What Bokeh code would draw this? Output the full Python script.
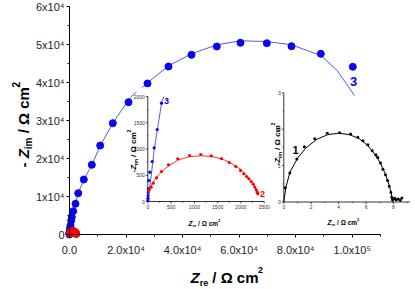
import math
from bokeh.plotting import figure
from bokeh.models import Range1d, FixedTicker, Label
from bokeh.core.properties import value
from bokeh.embed import file_html
from bokeh.resources import INLINE

# ---- sample 3 (blue): impedance points and fitted arc, Ohm cm^2 ----
z3_re = [2, 4, 6, 9, 13, 21, 43, 94, 137, 202, 294, 350, 600, 810, 1310, 2120, 3080,
         5060, 7890, 10850, 15320, 20870, 27590, 35020, 43150, 52100, 60480, 69790,
         78520, 88890, 100200]
z3_im = [20, 60, 110, 170, 240, 400, 558, 762, 1023, 1371, 1872, 2370, 3680, 4550, 6130,
         8080, 10870, 14470, 18340, 23420, 29290, 34820, 39740, 44210, 47290, 49470,
         50450, 50340, 49550, 47550, 44130]
fit3_re = [0, 40, 140, 300, 345, 700, 1300, 2100, 3100, 5100, 7900, 10900, 15300, 21575,
           27590, 35016, 43150, 52100, 60480, 69790, 78520, 88890, 94680, 100800]
fit3_im = [0, 250, 1000, 1900, 2000, 4300, 6200, 8100, 10900, 14500, 18300, 23400, 29300,
           36130, 39920, 44390, 47550, 49920, 50970, 50790, 49920, 47110, 43160, 36580]

# ---- sample 2 (red) ----
z2_re = [30, 73, 116, 187, 294, 445, 644, 896, 1138, 1362, 1583, 1748, 1890, 1991, 2062,
         2120, 2169, 2221, 2264, 2298, 2328, 2350, 2363]
z2_im = [223, 272, 349, 451, 571, 699, 813, 876, 895, 870, 819, 743, 667, 590, 528, 476,
         432, 381, 330, 272, 223, 177, 147]
fit2_re = [10, 60, 150, 300, 450, 650, 900, 1150, 1400, 1650, 1850, 2000, 2120, 2220, 2300, 2384]
fit2_im = [150, 280, 420, 570, 680, 790, 855, 872, 855, 790, 700, 610, 500, 390, 280, 147]

# ---- sample 1 (black) ----
z1_re = [0.10, 0.44, 0.95, 1.50, 2.26, 3.17, 4.07, 4.87, 5.40, 5.77, 6.13, 6.45, 6.72, 6.86,
         7.06, 7.23, 7.42, 7.57, 7.69, 7.81, 7.88, 7.93, 8.00, 8.10, 8.20, 8.35, 8.50, 8.61]
z1_im = [0.39, 0.80, 1.18, 1.52, 1.74, 1.89, 1.90, 1.87, 1.78, 1.68, 1.57, 1.41, 1.30, 1.22,
         1.07, 0.90, 0.75, 0.59, 0.43, 0.27, 0.13, 0.06, 0.08, 0.10, 0.06, 0.08, 0.05, 0.11]
fit1_re = [0, 0.15, 0.45, 1.0, 1.6, 2.4, 3.2, 4.0, 4.8, 5.5, 6.1, 6.6, 7.0, 7.4, 7.7, 7.85, 7.95]
fit1_im = [0, 0.40, 0.82, 1.20, 1.48, 1.72, 1.85, 1.89, 1.85, 1.74, 1.56, 1.33, 1.10, 0.78,
           0.45, 0.22, 0.0]

# ---- tick values and labels ----
main_x_ticks = [0, 20000, 40000, 60000, 80000, 100000]
main_x_labels = ["0.0", "2.0x10⁴", "4.0x10⁴", "6.0x10⁴", "8.0x10⁴", "1.0x10⁵"]
main_x_minor = [10000, 30000, 50000, 70000, 90000, 110000]
main_y_ticks = [0, 10000, 20000, 30000, 40000, 50000, 60000]
main_y_labels = ["0", "1x10⁴", "2x10⁴", "3x10⁴", "4x10⁴", "5x10⁴", "6x10⁴"]
main_y_minor = [5000, 15000, 25000, 35000, 45000, 55000]

in1_x_ticks = [0, 500, 1000, 1500, 2000, 2500]
in1_x_minor = [250, 750, 1250, 1750, 2250]
in1_y_ticks = [0, 500, 1000, 1500, 2000]
in1_y_minor = [250, 750, 1250, 1750]
in2_x_ticks = [0, 2, 4, 6, 8]
in2_x_minor = [1, 3, 5, 7, 9]
in2_y_ticks = [0, 1, 2, 3]
in2_y_minor = [0.5, 1.5, 2.5]

BLUE = "#0505f0"
BLUE_LINE = "#5a5ae0"
RED = "#ff0000"
RED_LINE = "#f03c3c"
FONT = "Liberation Sans"

# ---- page geometry: the frame fills the page, axes are pinned at zero ----
W, H = 415, 289
X0, Y0 = 69, 234            # pixel position of the data origin
X_PER_PX = 1.1e5 / 311
Y_PER_PX = 6e4 / 228


def dx(px):
    return (px - X0) * X_PER_PX


def dy(py):
    return (Y0 - py) * Y_PER_PX


p = figure(width=W, height=H, output_backend="svg", toolbar_location=None, title=None,
           x_range=Range1d(dx(0), dx(W)), y_range=Range1d(dy(H), dy(0)),
           min_border=0)
p.xgrid.visible = False
p.ygrid.visible = False
p.outline_line_color = None
p.background_fill_color = "white"
p.border_fill_color = "white"

p.xaxis.ticker = FixedTicker(ticks=main_x_ticks, minor_ticks=main_x_minor)
p.yaxis.ticker = FixedTicker(ticks=main_y_ticks, minor_ticks=main_y_minor)
p.xaxis.major_label_overrides = {float(t): s for t, s in zip(main_x_ticks, main_x_labels)}
p.yaxis.major_label_overrides = {float(t): s for t, s in zip(main_y_ticks, main_y_labels)}
p.xaxis.bounds = (0, 110000)
p.yaxis.bounds = (0, 60000)
p.xaxis.fixed_location = 0
p.yaxis.fixed_location = 0
for ax in (p.xaxis[0], p.yaxis[0]):
    ax.axis_line_color = "black"
    ax.axis_line_width = 1
    ax.major_tick_out = 3
    ax.major_tick_in = 0
    ax.minor_tick_out = 2
    ax.minor_tick_in = 0
    ax.major_tick_line_color = "black"
    ax.minor_tick_line_color = "black"
    ax.major_label_text_font = FONT
    ax.major_label_text_font_size = "11px"
    ax.major_label_text_color = "#1e1e1e"
p.xaxis.major_label_standoff = 6
p.yaxis.major_label_standoff = 2

# ---- main plot: sample 3 with fit, sample 2 squeezed near origin ----
p.line(fit3_re, fit3_im, line_color=BLUE_LINE, line_width=1)
p.scatter(z3_re, z3_im, size=7, fill_color=BLUE, line_color=BLUE)
p.scatter(z2_re, z2_im, size=7, fill_color=RED, line_color=RED)

# white panel behind the first inset
p.quad(left=dx(136), right=dx(268), top=dy(87), bottom=dy(226),
       fill_color="white", line_color=None)


def draw_axes(sub, xt, xm, yt, ym, xmax, ymax):
    sub.line([0, xmax], [0, 0], line_color="black", line_width=0.8)
    sub.line([0, 0], [0, ymax], line_color="black", line_width=0.8)
    sub.ray(x=xt, y=[0] * len(xt), length=2, angle=-math.pi / 2, length_units="screen",
            line_color="black", line_width=0.7)
    sub.ray(x=xm, y=[0] * len(xm), length=1.2, angle=-math.pi / 2, length_units="screen",
            line_color="black", line_width=0.6)
    sub.ray(x=[0] * len(yt), y=yt, length=2, angle=math.pi, length_units="screen",
            line_color="black", line_width=0.7)
    sub.ray(x=[0] * len(ym), y=ym, length=1.2, angle=math.pi, length_units="screen",
            line_color="black", line_width=0.6)
    sub.text(x=xt, y=[0] * len(xt), text=[f"{t:g}" for t in xt], text_align="center",
             text_baseline="top", y_offset=3, text_font=value(FONT),
             text_font_size="5px", text_color="#333333")
    sub.text(x=[0] * len(yt), y=yt, text=[f"{t:g}" for t in yt], text_align="right",
             text_baseline="middle", x_offset=-3, text_font=value(FONT),
             text_font_size="5px", text_color="#333333")


# ---- inset 1: samples 2 and 3 at low impedance ----
in1 = p.subplot(x_source=Range1d(0, 2500), y_source=Range1d(0, 2000),
                x_target=Range1d(dx(147.3), dx(263.7)), y_target=Range1d(dy(201), dy(96)))
draw_axes(in1, in1_x_ticks, in1_x_minor, in1_y_ticks, in1_y_minor, 2500, 2000)
f3 = [(a, b) for a, b in zip(fit3_re, fit3_im) if b <= 2000]
in1.line([a for a, _ in f3], [b for _, b in f3], line_color=BLUE_LINE, line_width=1)
s3 = [(a, b) for a, b in zip(z3_re, z3_im) if b <= 2000]
in1.scatter([a for a, _ in s3], [b for _, b in s3], size=3.2, fill_color=BLUE, line_color=None)
in1.line(fit2_re, fit2_im, line_color=RED_LINE, line_width=1)
in1.scatter(z2_re, z2_im, size=3.2, fill_color=RED, line_color=None)

# ---- inset 2: sample 1 ----
in2 = p.subplot(x_source=Range1d(0, 9.2), y_source=Range1d(0, 3),
                x_target=Range1d(dx(283.3), dx(409.4)), y_target=Range1d(dy(201.5), dy(92.3)))
draw_axes(in2, in2_x_ticks, in2_x_minor, in2_y_ticks, in2_y_minor, 9.2, 3)
in2.line(fit1_re, fit1_im, line_color="black", line_width=1)
in2.scatter(z1_re, z1_im, size=3, fill_color="black", line_color=None)

# ---- text ----
WIDTH_BOLD = {" ": .278, "-": .333, "/": .278, "Z": .611, "c": .556, "e": .556, "i": .278,
              "m": .889, "r": .389, "Ω": .77, "2": .556}


def text_w(s, size):
    return sum(WIDTH_BOLD.get(ch, .556) for ch in s) * size


def rich(px, py, pieces, vertical=False, color="black"):
    """Compose a title from differently sized pieces, placed in canvas pixels."""
    pos = 0.0
    for txt, size, style, shift in pieces:
        lead = len(txt) - len(txt.lstrip(" "))
        pos += text_w(" " * lead, size)
        core = txt.strip(" ")
        if core:
            if vertical:
                x, y, ang = px - shift, py - pos, math.pi / 2
            else:
                x, y, ang = px + pos, py - shift, 0
            p.add_layout(Label(x=x, y=y, x_units="canvas", y_units="canvas", text=core,
                               angle=ang, text_font=FONT, text_font_size=f"{size}px",
                               text_font_style=style, text_color=color,
                               text_align="left", text_baseline="alphabetic"))
        pos += text_w(core, size)


def mark(px, py, txt, size, color):
    p.add_layout(Label(x=dx(px), y=dy(py), text=txt, text_font=FONT,
                       text_font_size=f"{size}px", text_font_style="bold",
                       text_color=color, text_align="center", text_baseline="middle"))


# main axis titles
rich(190, 277, [("Z", 15, "bold italic", 0), ("re", 9, "bold", -5),
                (" / Ω cm", 15, "bold", 0), ("2", 9, "bold", 8)])
rich(23, 167, [("-", 15, "bold", 0), (" Z", 15, "bold italic", 0), ("im", 10, "bold", -5),
               (" / Ω cm", 15, "bold", 0), ("2", 10, "bold", 8)], vertical=True)

# inset axis titles
for x0, yb in ((188, 223), (327, 222)):
    rich(x0, yb, [("Z", 6.5, "bold italic", 0), ("re", 4, "bold", -2),
                  (" / Ω cm", 6.5, "bold", 0), ("2", 4, "bold", 3.5)])
for xb, y0 in ((133, 172), (276.5, 165)):
    rich(xb, y0, [("-", 8, "bold", 0), ("Z", 8, "bold italic", 0), ("im", 5, "bold", -2.5),
                  (" / Ω cm", 8, "bold", 0), ("2", 5, "bold", 4.5)], vertical=True)

# curve numbers
mark(353, 81, "3", 13, BLUE)
mark(166, 100, "3", 9, BLUE)
mark(262, 193.5, "2", 9, RED)
mark(295, 149, "1", 11, "black")

open("out.html", "w").write(file_html(p, INLINE))
